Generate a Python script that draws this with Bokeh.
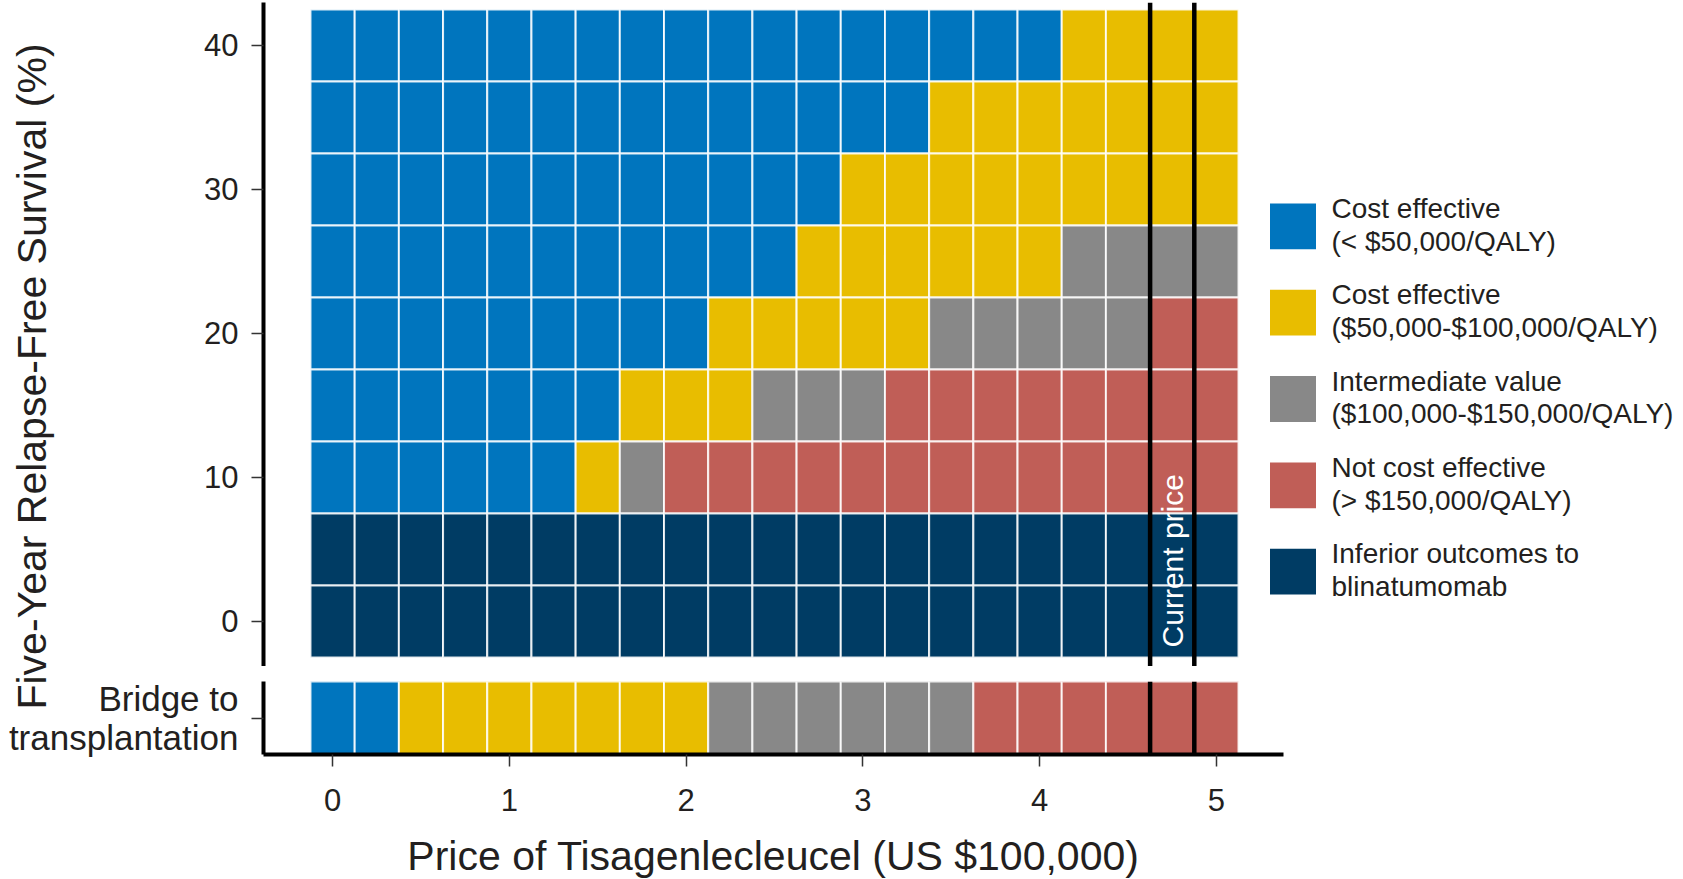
import math
from bokeh.plotting import figure
from bokeh.layouts import row, column
from bokeh.models import Range1d, FactorRange, Span, Label, ColumnDataSource, FixedTicker
from bokeh.embed import file_html
from bokeh.resources import INLINE
from bokeh.core.properties import value

# ---------------- data ----------------
PRICES = [0.0, 0.25, 0.5, 0.75, 1.0, 1.25, 1.5, 1.75, 2.0, 2.25, 2.5,
          2.75, 3.0, 3.25, 3.5, 3.75, 4.0, 4.25, 4.5, 4.75, 5.0]
SURVIVAL = [40, 35, 30, 25, 20, 15, 10, 5, 0]
# run-length encoded category of each row, left to right (price 0 -> 5)
ROW_40 = [("B", 17), ("Y", 4)]
ROW_35 = [("B", 14), ("Y", 7)]
ROW_30 = [("B", 12), ("Y", 9)]
ROW_25 = [("B", 11), ("Y", 6), ("G", 4)]
ROW_20 = [("B", 9), ("Y", 5), ("G", 5), ("R", 2)]
ROW_15 = [("B", 7), ("Y", 3), ("G", 3), ("R", 8)]
ROW_10 = [("B", 6), ("Y", 1), ("G", 1), ("R", 13)]
ROW_05 = [("N", 21)]
ROW_00 = [("N", 21)]
ROWS = [ROW_40, ROW_35, ROW_30, ROW_25, ROW_20, ROW_15, ROW_10, ROW_05, ROW_00]
BRIDGE_LABEL = "Bridge to\ntransplantation"
BRIDGE_ROW = [("B", 2), ("Y", 7), ("G", 6), ("R", 6)]
CURRENT_PRICE = 4.75
X_TICKS = [0, 1, 2, 3, 4, 5]
Y_TICKS = [0, 10, 20, 30, 40]
X_TITLE = "Price of Tisagenlecleucel (US $100,000)"
Y_TITLE = "Five-Year Relapse-Free Survival (%)"

CAT_KEYS = ["B", "Y", "G", "R", "N"]
CAT_COLORS = {"B": "#0075BE", "Y": "#E8BD00", "G": "#888888", "R": "#C05E57", "N": "#003C64"}
LEGEND_LINE1 = ["Cost effective", "Cost effective", "Intermediate value",
                "Not cost effective", "Inferior outcomes to"]
LEGEND_LINE2 = ["(< $50,000/QALY)", "($50,000-$100,000/QALY)",
                "($100,000-$150,000/QALY)", "(> $150,000/QALY)", "blinatumomab"]

TXT = "#231F20"
FONT = "Liberation Sans"
CELL_W = 0.25
CELL_H = 5


def expand(runs):
    out = []
    for k, n in runs:
        out += [k] * n
    return out


# ---------------- layout constants (px) ----------------
BORDER_L = 263
FRAME_W2 = 1020
P1_W = 1262
P1_H = 666
P2_TOP = 15
P2_FRAME = 73
TOTAL_H = 879
P2_H = TOTAL_H - P1_H
P2_BOT = P2_H - P2_TOP - P2_FRAME
LEG_W = 1683 - P1_W - 6
TOTAL_W = P1_W + LEG_W
PX_PER_UNIT = 176.76
XS = -0.125 - 47 / PX_PER_UNIT
XE1 = XS + (P1_W - BORDER_L) / PX_PER_UNIT
XE2 = XS + FRAME_W2 / PX_PER_UNIT

# ---------------- main panel ----------------
xs, ys, cs = [], [], []
for surv, runs in zip(SURVIVAL, ROWS):
    for price, k in zip(PRICES, expand(runs)):
        xs.append(price)
        ys.append(surv)
        cs.append(CAT_COLORS[k])
src1 = ColumnDataSource(dict(x=xs, y=ys, c=cs))

p1 = figure(width=P1_W, height=P1_H, x_range=Range1d(XS, XE1), y_range=Range1d(-3.125, 42.986),
            x_axis_location=None, toolbar_location=None, output_backend="svg",
            min_border_left=BORDER_L, min_border_right=0, min_border_top=2, min_border_bottom=0,
            outline_line_color=None, border_fill_color=None)
p1.rect(x="x", y="y", width=CELL_W, height=CELL_H, fill_color="c", line_color="white",
        line_width=2, line_alpha=0.85, source=src1)
p1.grid.visible = False

# ---------------- bridge panel ----------------
bx, by, bc = [], [], []
for price, k in zip(PRICES, expand(BRIDGE_ROW)):
    bx.append(price)
    by.append(BRIDGE_LABEL)
    bc.append(CAT_COLORS[k])
src2 = ColumnDataSource(dict(x=bx, y=by, c=bc))

p2 = figure(width=BORDER_L + FRAME_W2 + 2, height=P2_H, x_range=Range1d(XS, XE2),
            y_range=FactorRange(factors=[BRIDGE_LABEL], range_padding=0),
            toolbar_location=None, output_backend="svg",
            min_border_left=BORDER_L, min_border_right=2, min_border_top=P2_TOP,
            min_border_bottom=P2_BOT, outline_line_color=None, border_fill_color=None)
p2.rect(x="x", y="y", width=CELL_W, height=1, fill_color="c", line_color="white",
        line_width=2, line_alpha=0.85, source=src2)
p2.grid.visible = False

for p in (p1, p2):
    for ax in p.yaxis:
        ax.axis_line_width = 4
        ax.axis_line_color = "black"
        ax.major_tick_out = 12
        ax.major_tick_in = 0
        ax.major_tick_line_width = 1.5
        ax.major_tick_line_color = "#333333"
        ax.minor_tick_line_color = None
        ax.major_label_text_font = FONT
        ax.major_label_text_color = TXT
        ax.major_label_standoff = 13
    for loc in (CURRENT_PRICE - CELL_W / 2, CURRENT_PRICE + CELL_W / 2):
        p.add_layout(Span(location=loc, dimension="height", line_color="black", line_width=4.5))

p1.yaxis.ticker = FixedTicker(ticks=Y_TICKS)
p1.yaxis.major_label_text_font_size = "31px"
p2.yaxis.major_label_text_font_size = "35px"
p2.yaxis.major_label_text_line_height = 1.0

xa = p2.xaxis[0]
xa.ticker = FixedTicker(ticks=X_TICKS)
xa.axis_line_width = 4
xa.axis_line_color = "black"
xa.major_tick_out = 12
xa.major_tick_in = 0
xa.major_tick_line_width = 1.5
xa.major_tick_line_color = "#333333"
xa.minor_tick_line_color = None
xa.major_label_text_font = FONT
xa.major_label_text_font_size = "31px"
xa.major_label_text_color = TXT
xa.major_label_standoff = 22

p1.add_layout(Label(x=CURRENT_PRICE, y=-1.8, text="Current price", angle=math.pi / 2,
                    text_align="left", text_baseline="middle", text_color="white",
                    text_font=FONT, text_font_size="30px"))

# ---------------- legend panel ----------------
LEG_SQ_X = 30.5
LEG_TXT_X = 69
LEG_TOP = 224.5
LEG_STEP = 86.6
leg_y = [LEG_TOP + i * LEG_STEP for i in range(len(CAT_KEYS))]
pl = figure(width=LEG_W, height=P1_H, x_range=Range1d(0, LEG_W), y_range=Range1d(P1_H, 0),
            x_axis_location=None, y_axis_location=None, toolbar_location=None,
            output_backend="svg", min_border=0, outline_line_color=None)
pl.grid.visible = False
pl.rect(x=[LEG_SQ_X] * 5, y=leg_y, width=46, height=46,
        fill_color=[CAT_COLORS[k] for k in CAT_KEYS], line_color=None)
pl.text(x=[LEG_TXT_X] * 5, y=[v - 18 for v in leg_y], text=LEGEND_LINE1,
        text_font=value(FONT), text_font_size="28px", text_color=TXT, text_baseline="middle")
pl.text(x=[LEG_TXT_X] * 5, y=[v + 15 for v in leg_y], text=LEGEND_LINE2,
        text_font=value(FONT), text_font_size="28px", text_color=TXT, text_baseline="middle")

# ---------------- axis titles (sit under the transparent borders) ----------------
pt = figure(width=TOTAL_W, height=TOTAL_H, x_range=Range1d(0, TOTAL_W), y_range=Range1d(TOTAL_H, 0),
            x_axis_location=None, y_axis_location=None, toolbar_location=None,
            output_backend="svg", min_border=0, outline_line_color=None,
            margin=(0, -TOTAL_W, 0, 0))
pt.grid.visible = False
pt.text(x=[31], y=[376], text=[Y_TITLE],
        angle=math.pi / 2, text_align="center", text_baseline="middle",
        text_font=value(FONT), text_font_size="41px", text_color=TXT)
pt.text(x=[BORDER_L + FRAME_W2 / 2], y=[855], text=[X_TITLE],
        text_align="center", text_baseline="middle",
        text_font=value(FONT), text_font_size="41px", text_color=TXT)

layout = row(pt, column(row(p1, pl), p2))
open("out.html", "w").write(file_html(layout, INLINE))
